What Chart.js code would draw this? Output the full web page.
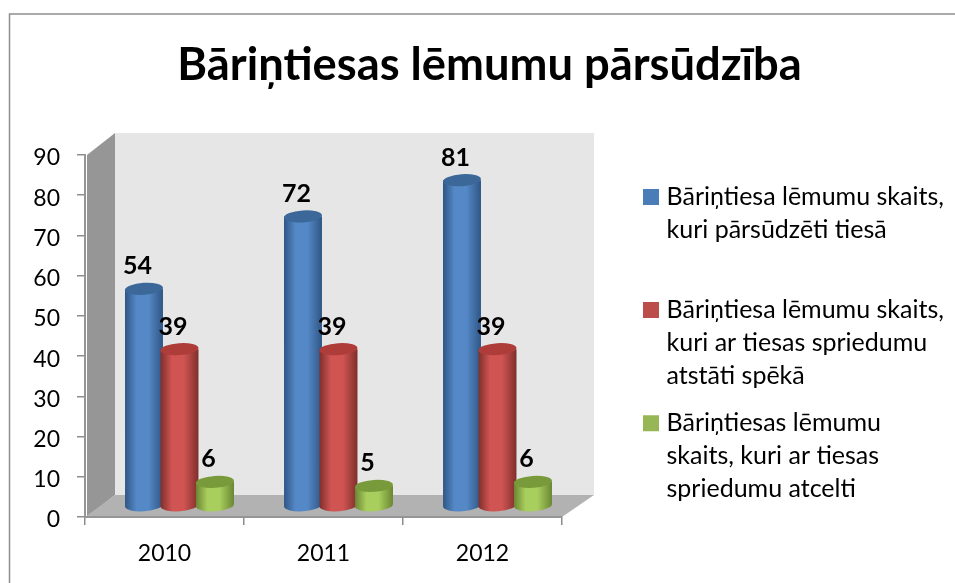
<!DOCTYPE html>
<html>
<head>
<meta charset="utf-8">
<style>html,body{margin:0;padding:0;background:#fff}canvas{display:block}</style>
<script src="https://cdn.jsdelivr.net/npm/chart.js@4"></script>
</head>
<body>
<canvas id="c" width="955" height="583"></canvas>
<script>
const titleText = 'Bāriņtiesas lēmumu pārsūdzība';
const categories = ['2010', '2011', '2012'];
const appealed = [54, 72, 81];
const upheld = [39, 39, 39];
const annulled = [6, 5, 6];
const legendAppealed = ['Bāriņtiesa lēmumu skaits,', 'kuri pārsūdzēti tiesā', ''];
const legendUpheld = ['Bāriņtiesa lēmumu skaits,', 'kuri ar tiesas spriedumu', 'atstāti spēkā'];
const legendAnnulled = ['Bāriņtiesas lēmumu', 'skaits, kuri ar tiesas', 'spriedumu atcelti'];

const FONT = 'Lato';
const DEPTH_X = 28, DEPTH_Y = 22;
const palette = [
  {edge:'#2f5685', mid:'#5488c6', top:'#3b6898', box:'#4a7cb8'},
  {edge:'#7f2f2c', mid:'#cf5452', top:'#ae3d3a', box:'#bb4d4a'},
  {edge:'#6b8633', mid:'#a8ce5d', top:'#789a3b', box:'#97b655'}
];

const scene = {
  id: 'scene',
  afterLayout(chart) {
    const lg = chart.legend;
    lg.left = 633; lg.right = 955;
    lg.top = 169.5;
  },
  beforeDraw(chart) {
    const {ctx, chartArea:a} = chart;
    const l = a.left + 2, r = a.right, t = a.top, b = a.bottom;
    ctx.save();
    ctx.strokeStyle = '#8e8e8e'; ctx.lineWidth = 1.5;
    ctx.beginPath(); ctx.moveTo(9.5, 583); ctx.lineTo(9.5, 14); ctx.lineTo(955, 14); ctx.stroke();
    ctx.fillStyle = '#e6e6e6';
    ctx.fillRect(l + DEPTH_X, t - DEPTH_Y, r + 4 - l, b - t);
    ctx.fillStyle = '#969696';
    ctx.beginPath(); ctx.moveTo(l, t); ctx.lineTo(l + DEPTH_X, t - DEPTH_Y); ctx.lineTo(l + DEPTH_X, b - DEPTH_Y); ctx.lineTo(l, b); ctx.closePath(); ctx.fill();
    ctx.fillStyle = '#b2b2b2';
    ctx.beginPath(); ctx.moveTo(l - 2, b); ctx.lineTo(l + DEPTH_X, b - DEPTH_Y); ctx.lineTo(r + DEPTH_X + 4, b - DEPTH_Y); ctx.lineTo(r, b); ctx.closePath(); ctx.fill();
    ctx.restore();
  },
  afterDatasetsDraw(chart) {
    const {ctx} = chart;
    const tilt = -0.07, ry = 6;
    const dx = DEPTH_X / 2 + 1, dy = DEPTH_Y / 2;
    ctx.save();
    chart.data.labels.forEach((_, i) => {
      chart.data.datasets.forEach((ds, d) => {
        const el = chart.getDatasetMeta(d).data[i];
        const p = palette[d];
        const cx = el.x + dx, rx = el.width / 2, yT = el.y - dy, yB = el.base - dy;
        const g = ctx.createLinearGradient(cx - rx, 0, cx + rx, 0);
        g.addColorStop(0, p.edge); g.addColorStop(0.3, p.mid); g.addColorStop(0.62, p.mid); g.addColorStop(1, p.edge);
        ctx.fillStyle = g;
        ctx.beginPath();
        ctx.ellipse(cx, yB, rx, ry, tilt, 0, Math.PI);
        ctx.lineTo(cx - rx, yT);
        ctx.lineTo(cx + rx, yT);
        ctx.closePath();
        ctx.fill();
        ctx.fillStyle = p.top;
        ctx.beginPath();
        ctx.ellipse(cx, yT, rx, ry, tilt, 0, Math.PI * 2);
        ctx.fill();
      });
    });
    ctx.fillStyle = '#000';
    ctx.font = 'bold 25px ' + FONT;
    ctx.textAlign = 'center'; ctx.textBaseline = 'middle';
    chart.data.datasets.forEach((ds, d) => {
      const meta = chart.getDatasetMeta(d);
      meta.data.forEach((el, i) => {
        ctx.fillText(String(ds.data[i]), el.x + dx - 6.5, el.y - dy - 22.5);
      });
    });
    ctx.restore();
  }
};

new Chart(document.getElementById('c'), {
  type: 'bar',
  data: {
    labels: categories,
    datasets: [
      {label: legendAppealed.join(' '), data: appealed, backgroundColor: 'rgba(0,0,0,0)'},
      {label: legendUpheld.join(' '), data: upheld, backgroundColor: 'rgba(0,0,0,0)'},
      {label: legendAnnulled.join(' '), data: annulled, backgroundColor: 'rgba(0,0,0,0)'}
    ]
  },
  plugins: [scene],
  options: {
    responsive: false,
    animation: false,
    datasets: {bar: {categoryPercentage: 0.67, barPercentage: 1.07}},
    layout: {padding: {left: 24, right: 0, top: 0, bottom: 0}},
    plugins: {
      tooltip: {enabled: false},
      title: {
        display: true, text: titleText, color: '#000',
        font: {family: FONT, size: 45.3, weight: 'bold', lineHeight: 1},
        padding: {top: 42.5, bottom: 67.2}
      },
      legend: {
        display: true, position: 'right', align: 'start', maxWidth: 322,
        labels: {
          color: '#000', boxWidth: 6, boxHeight: 6, padding: 15,
          font: {family: FONT, size: 25, lineHeight: '32.7px'},
          generateLabels() {
            return [legendAppealed, legendUpheld, legendAnnulled].map((text, i) => ({
              text, fillStyle: palette[i].box, strokeStyle: palette[i].box, lineWidth: 10, datasetIndex: i, fontColor: '#000'
            }));
          }
        }
      }
    },
    scales: {
      x: {
        grid: {drawOnChartArea: false, color: '#8c8c8c', lineWidth: 1.5, tickLength: 8, offset: true},
        border: {color: '#959595', width: 2},
        ticks: {color: '#000', padding: 15, font: {family: FONT, size: 23}, maxRotation: 0},
        afterFit(s) { s.height = 66; }
      },
      y: {
        min: 0, max: 90,
        grid: {drawOnChartArea: false, color: '#8c8c8c', lineWidth: 1.5, tickLength: 8},
        border: {color: '#959595', width: 2},
        ticks: {
          stepSize: 10, color: '#000', padding: 17,
          font: {family: FONT, size: 23, lineHeight: '6px'},
          callback: v => ['', String(v)]
        },
        afterFit(s) { s.width = 61; }
      },
      spacer: {
        position: 'right', display: true,
        grid: {display: false}, border: {display: false}, ticks: {display: false},
        afterFit(s) { s.width = 393 - (s.chart.legend ? s.chart.legend.width : 322); }
      }
    }
  }
});
</script>
</body>
</html>
